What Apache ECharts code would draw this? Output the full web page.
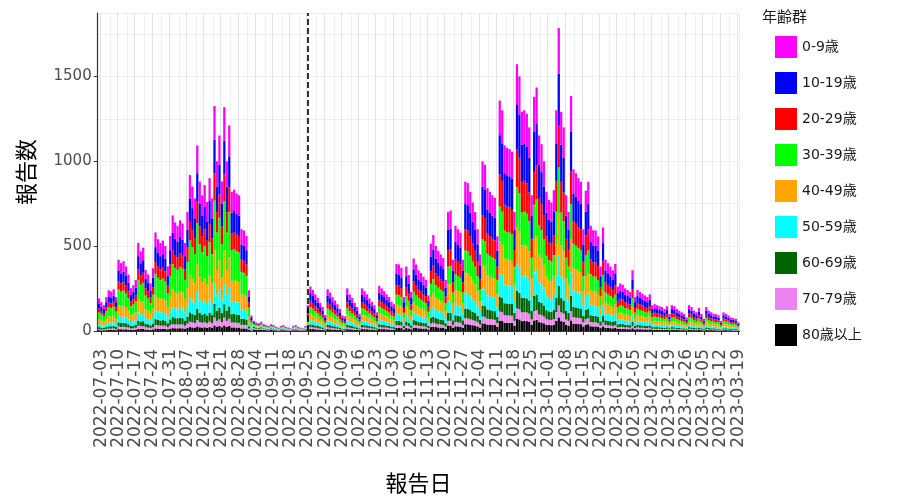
<!DOCTYPE html>
<html><head><meta charset="utf-8">
<script src="https://cdn.jsdelivr.net/npm/echarts@6/dist/echarts.min.js"></script>
<style>html,body{margin:0;padding:0;background:#fff}#c{width:902px;height:501px}</style>
</head><body><div id="c"></div>
<script>
const startDate = '2022-07-02';
const endDate = '2023-03-19';
const boundaryDate = '2022-09-25';
const tickLabels = ['2022-07-03','2022-07-10','2022-07-17','2022-07-24','2022-07-31','2022-08-07','2022-08-14','2022-08-21','2022-08-28','2022-09-04','2022-09-11','2022-09-18','2022-09-25','2022-10-02','2022-10-09','2022-10-16','2022-10-23','2022-10-30','2022-11-06','2022-11-13','2022-11-20','2022-11-27','2022-12-04','2022-12-11','2022-12-18','2022-12-25','2023-01-01','2023-01-08','2023-01-15','2023-01-22','2023-01-29','2023-02-05','2023-02-12','2023-02-19','2023-02-26','2023-03-05','2023-03-12','2023-03-19'];
const yTicks = [0, 500, 1000, 1500];
const groupNames = ['0-9歳','10-19歳','20-29歳','30-39歳','40-49歳','50-59歳','60-69歳','70-79歳','80歳以上'];
const groupColors = ['#ff00ff','#0000ff','#ff0000','#00ff00','#ffa500','#00ffff','#006400','#ee82ee','#000000'];

const age0_9 = [29,26,23,30,36,35,37,30,63,60,62,57,50,38,41,45,78,71,74,54,50,42,56,87,81,78,80,75,57,84,102,96,93,98,95,78,105,138,128,117,164,132,120,129,114,135,117,199,150,173,132,198,150,182,123,125,122,120,90,89,84,36,14,
6,5,4,5,4,3,3,4,3,2,2,3,3,2,2,1,3,3,2,2,1,3,
23,39,36,32,29,25,21,14,37,34,30,27,24,20,14,13,38,32,29,25,21,15,38,35,32,29,26,23,17,40,38,35,32,30,26,24,59,59,56,30,57,50,35,64,59,54,51,48,45,32,77,85,75,71,68,65,45,105,107,63,93,90,87,63,132,131,123,114,105,90,68,150,147,126,123,120,118,84,204,195,164,162,161,158,105,236,225,194,195,192,180,120,207,215,173,165,150,123,116,114,125,195,268,194,180,120,105,208,143,140,135,132,90,124,132,93,89,89,84,57,92,63,60,57,54,59,39,42,41,38,36,35,54,30,36,35,33,32,30,32,23,24,23,22,21,20,22,15,23,22,20,18,17,15,12,23,21,18,17,20,15,11,21,18,17,15,15,14,9,17,15,14,12,11,11,8];
const age10_19 = [29,26,23,30,36,35,37,30,63,60,62,57,50,38,41,45,78,71,74,54,50,42,56,87,81,78,80,75,57,84,102,96,93,98,95,78,105,138,128,117,164,132,120,129,114,135,117,199,150,173,132,198,150,182,123,125,122,120,90,89,84,36,14,
6,5,5,6,4,4,3,4,4,3,2,3,4,3,2,2,3,4,3,2,2,3,
26,45,41,37,33,28,24,16,42,38,34,31,27,22,15,14,43,37,33,28,24,17,43,40,37,32,29,26,19,45,43,40,37,34,29,27,67,66,63,34,65,56,39,72,66,61,58,54,51,36,88,96,85,80,77,73,51,119,121,71,105,102,99,71,150,148,139,129,119,102,77,170,167,143,139,136,133,95,231,221,186,184,182,180,119,267,255,219,221,218,204,136,235,244,196,187,170,139,131,129,141,221,303,219,204,136,119,235,162,158,153,150,102,140,150,105,101,100,95,65,104,71,68,65,61,67,45,48,46,43,41,39,61,34,41,39,37,36,34,37,26,27,26,25,24,22,25,17,26,25,22,20,19,17,14,26,24,20,19,23,17,12,24,20,19,17,17,15,10,19,17,15,14,13,12,9];
const age20_29 = [23,20,18,24,29,28,29,24,50,48,49,46,40,30,32,36,62,56,59,43,40,34,44,70,65,62,64,60,46,67,82,77,74,78,76,62,84,110,102,94,131,106,96,103,91,108,94,159,120,138,106,158,120,145,98,100,97,96,72,71,67,29,11,
6,5,4,5,4,3,3,4,3,2,2,3,3,2,2,1,3,3,2,2,1,3,
21,37,34,30,27,23,20,13,34,32,28,25,22,18,13,12,35,30,27,23,20,14,35,33,30,27,24,21,15,37,35,33,30,28,24,22,55,55,52,28,53,46,32,60,55,50,48,45,42,29,72,79,70,66,63,60,42,98,99,59,87,84,81,59,123,122,115,106,98,84,63,140,137,118,115,112,110,78,190,182,153,151,150,148,98,220,210,181,182,179,168,112,193,201,161,154,140,115,108,106,116,182,250,181,168,112,98,194,133,130,126,123,84,116,123,87,83,83,78,53,85,59,56,53,50,55,37,39,38,35,34,32,50,28,34,32,31,29,28,30,21,22,21,20,20,18,20,14,21,20,18,17,15,14,11,21,20,17,15,19,14,10,20,17,15,14,14,13,8,15,14,13,11,11,10,7];
const age30_39 = [42,37,33,44,53,51,54,44,92,88,90,84,73,55,59,66,114,103,108,79,73,62,81,128,119,114,117,110,84,123,150,141,136,143,139,114,154,202,187,172,241,194,176,189,167,198,172,292,220,253,194,290,220,266,180,183,178,176,132,130,123,53,20,
6,5,5,6,4,4,3,4,4,3,2,3,4,3,2,2,3,4,3,2,2,3,
23,39,36,32,29,25,21,14,37,34,30,27,24,20,14,13,38,32,29,25,21,15,38,35,32,29,26,23,17,40,38,35,32,30,26,24,59,59,56,30,57,50,35,64,59,54,51,48,45,32,77,85,75,71,68,65,45,105,107,63,93,90,87,63,132,131,123,114,105,90,68,150,147,126,123,120,118,84,204,195,164,162,161,158,105,236,225,194,195,192,180,120,207,215,173,165,150,123,116,114,125,195,268,194,180,120,105,208,143,140,135,132,90,124,132,93,89,89,84,57,92,63,60,57,54,59,39,42,41,38,36,35,54,30,36,35,33,32,30,32,23,24,23,22,21,20,22,15,23,22,20,18,17,15,12,23,21,18,17,20,15,11,21,18,17,15,15,14,9,17,15,14,12,11,11,8];
const age40_49 = [29,26,23,30,36,35,37,30,63,60,62,57,50,38,41,45,78,71,74,54,50,42,56,87,81,78,80,75,57,84,102,96,93,98,95,78,105,138,128,117,164,132,120,129,114,135,117,199,150,173,132,198,150,182,123,125,122,120,90,89,84,36,14,
6,5,4,5,4,3,3,4,3,2,2,3,3,2,2,1,3,3,2,2,1,3,
21,37,34,30,27,23,20,13,34,32,28,25,22,18,13,12,35,30,27,23,20,14,35,33,30,27,24,21,15,37,35,33,30,28,24,22,55,55,52,28,53,46,32,60,55,50,48,45,42,29,72,79,70,66,63,60,42,98,99,59,87,84,81,59,123,122,115,106,98,84,63,140,137,118,115,112,110,78,190,182,153,151,150,148,98,220,210,181,182,179,168,112,193,201,161,154,140,115,108,106,116,182,250,181,168,112,98,194,133,130,126,123,84,116,123,87,83,83,78,53,85,59,56,53,50,55,37,39,38,35,34,32,50,28,34,32,31,29,28,30,21,22,21,20,20,18,20,14,21,20,18,17,15,14,11,21,20,17,15,19,14,10,20,17,15,14,14,13,8,15,14,13,11,11,10,7];
const age50_59 = [17,15,14,18,22,21,22,18,38,36,37,34,30,23,24,27,47,42,44,32,30,25,33,52,49,47,48,45,34,50,61,58,56,59,57,47,63,83,77,70,99,79,72,77,68,81,70,119,90,104,79,119,90,109,74,75,73,72,54,53,50,22,8,
6,5,5,6,4,4,3,4,4,3,2,3,4,3,2,2,3,4,3,2,2,3,
15,26,24,22,20,17,14,10,25,23,20,18,16,13,9,9,25,22,20,17,14,10,25,24,22,19,17,15,11,27,25,24,22,20,17,16,40,39,37,20,38,33,23,43,39,36,34,32,30,21,52,57,50,47,45,43,30,70,71,42,62,60,58,42,88,87,82,76,70,60,45,100,98,84,82,80,79,56,136,130,110,108,107,106,70,157,150,129,130,128,120,80,138,144,115,110,100,82,77,76,83,130,179,129,120,80,70,139,95,93,90,88,60,83,88,62,59,59,56,38,61,42,40,38,36,40,26,28,27,25,24,23,36,20,24,23,22,21,20,22,15,16,15,15,14,13,15,10,15,15,13,12,11,10,8,15,14,12,11,14,10,7,14,12,11,10,10,9,6,11,10,9,8,8,7,5];
const age60_69 = [11,10,9,12,14,14,15,12,25,24,25,23,20,15,16,18,31,28,29,22,20,17,22,35,32,31,32,30,23,34,41,38,37,39,38,31,42,55,51,47,66,53,48,52,46,54,47,80,60,69,53,79,60,73,49,50,49,48,36,35,34,14,5,
7,6,5,7,5,4,4,5,4,3,2,4,4,3,2,2,4,4,3,2,2,4,
10,17,16,14,13,11,9,6,16,15,13,12,10,8,6,6,16,14,13,11,9,7,16,15,14,12,11,10,7,17,16,15,14,13,11,10,26,25,24,13,25,21,15,28,25,23,22,21,20,14,33,37,33,31,29,28,20,46,46,27,40,39,38,27,57,57,53,49,46,39,29,65,64,55,53,52,51,36,88,85,71,70,70,69,46,102,98,84,85,83,78,52,90,93,75,72,65,53,50,49,54,85,116,84,78,52,46,90,62,60,59,57,39,54,57,40,39,38,36,25,40,27,26,25,23,26,17,18,18,16,16,15,23,13,16,15,14,14,13,14,10,10,10,9,9,8,9,7,10,9,8,8,7,7,5,10,9,8,7,9,7,5,9,8,7,7,6,6,4,7,7,6,5,5,5,3];
const age70_79 = [7,6,5,7,8,8,9,7,15,14,14,13,12,9,9,11,18,16,17,13,12,10,13,20,19,18,19,18,13,20,24,22,22,23,22,18,25,32,30,27,38,31,28,30,27,32,27,46,35,40,31,46,35,42,29,29,28,28,21,21,20,8,3,
8,6,6,7,5,5,4,5,5,3,3,4,5,3,3,2,4,5,3,3,2,4,
6,10,10,9,8,7,6,4,10,9,8,7,6,5,4,3,10,9,8,7,6,4,10,9,9,8,7,6,4,11,10,9,9,8,7,6,16,16,15,8,15,13,9,17,16,14,14,13,12,8,21,23,20,19,18,17,12,28,28,17,25,24,23,17,35,35,33,30,28,24,18,40,39,34,33,32,31,22,54,52,44,43,43,42,28,63,60,52,52,51,48,32,55,57,46,44,40,33,31,30,33,52,71,52,48,32,28,55,38,37,36,35,24,33,35,25,24,24,22,15,24,17,16,15,14,16,10,11,11,10,10,9,14,8,10,9,9,8,8,9,6,6,6,6,6,5,6,4,6,6,5,5,4,4,3,6,6,5,4,5,4,3,6,5,4,4,4,4,2,4,4,4,3,3,3,2];
const age80plus = [5,4,4,5,6,6,6,5,11,10,10,10,8,6,7,8,13,12,12,9,8,7,9,15,14,13,13,13,10,14,17,16,16,16,16,13,18,23,21,20,27,22,20,22,19,23,20,33,25,29,22,33,25,30,21,21,20,20,15,15,14,6,2,
9,8,7,8,6,5,4,6,5,4,3,4,5,4,3,2,4,5,4,3,2,4,
7,12,11,10,9,7,6,4,11,10,9,8,7,6,4,4,11,10,9,7,6,5,11,11,10,9,8,7,5,12,11,11,10,9,8,7,18,18,17,9,17,15,10,19,18,16,15,14,14,9,23,25,23,21,20,19,14,32,32,19,28,27,26,19,40,39,37,34,32,27,20,45,44,38,37,36,35,25,61,59,49,49,48,48,32,71,68,58,59,58,54,36,62,65,52,50,45,37,35,34,37,59,80,58,54,36,32,62,43,42,41,40,27,37,40,28,27,27,25,17,27,19,18,17,16,18,12,13,12,11,11,10,16,9,11,10,10,9,9,10,7,7,7,7,6,6,7,5,7,7,6,5,5,5,4,7,6,5,5,6,5,3,6,5,5,5,4,4,3,5,5,4,4,3,3,2];

const groupData = [age0_9, age10_19, age20_29, age30_39, age40_49, age50_59, age60_69, age70_79, age80plus];

const dates = [];
for (let t = Date.parse(startDate + 'T00:00:00Z'); t <= Date.parse(endDate + 'T00:00:00Z'); t += 86400000) {
  dates.push(new Date(t).toISOString().slice(0, 10));
}
const tickSet = new Set(tickLabels);
const majorIdx = new Set(tickLabels.map(d => dates.indexOf(d)));
const minorIdx = new Set(tickLabels.map(d => dates.indexOf(d) + 4));

const FONT = '"DejaVu Sans", "Noto Sans CJK JP", sans-serif';
const series = [];
for (let g = groupNames.length - 1; g >= 0; g--) {
  const s = {
    name: groupNames[g], type: 'bar', stack: 'total', data: groupData[g],
    itemStyle: { color: groupColors[g] }, barCategoryGap: '8%',
    emphasis: { disabled: true }, xAxisIndex: 0, yAxisIndex: 0
  };
  if (g === groupNames.length - 1) {
    s.markLine = {
      silent: true, symbol: 'none', label: { show: false },
      lineStyle: { type: [6, 3], color: '#000', width: 1.6 },
      data: [{ xAxis: boundaryDate }]
    };
  }
  series.push(s);
}

const chart = echarts.init(document.getElementById('c'), null, { renderer: 'canvas' });
chart.setOption({
  animation: false,
  backgroundColor: '#ffffff',
  textStyle: { fontFamily: FONT },
  title: { text: '年齢群', left: 757, top: 6, textStyle: { fontSize: 15, fontWeight: 'normal', color: '#1a1a1a', fontFamily: FONT } },
  legend: {
    data: groupNames, orient: 'vertical', left: 775, top: 36, icon: 'rect',
    itemWidth: 22, itemHeight: 22, itemGap: 14, padding: 0,
    textStyle: { fontSize: 14, color: '#1a1a1a', fontFamily: FONT }, selectedMode: false
  },
  grid: { left: 97.7, right: 162.5, top: 13, bottom: 165, containLabel: false },
  xAxis: [{
    type: 'category', data: dates, boundaryGap: true, offset: 14,
    name: '報告日', nameLocation: 'middle', nameGap: 129,
    nameTextStyle: { fontSize: 22, color: '#000', fontFamily: FONT },
    axisLine: { show: true, lineStyle: { color: '#333', width: 1.2 } },
    axisTick: { show: true, alignWithLabel: true, length: 4, lineStyle: { color: '#333' }, interval: (i, v) => tickSet.has(v) },
    axisLabel: { show: true, rotate: 90, fontSize: 17, color: '#4d4d4d', margin: 4, fontFamily: FONT, interval: (i, v) => tickSet.has(v) },
    splitLine: { show: true, lineStyle: { color: '#e3e3e3', width: 1 }, interval: (i) => majorIdx.has(i) }
  }, {
    type: 'category', data: dates, boundaryGap: true, position: 'bottom',
    axisLine: { show: false }, axisTick: { show: false }, axisLabel: { show: false },
    splitLine: { show: true, lineStyle: { color: '#f0f0f0', width: 1 }, interval: (i) => minorIdx.has(i) }
  }],
  yAxis: [{
    type: 'value', min: 0, max: 1874, interval: 500,
    name: '報告数', nameLocation: 'middle', nameGap: 58, nameRotate: 90,
    nameTextStyle: { fontSize: 22, color: '#000', fontFamily: FONT },
    axisLine: { show: true, lineStyle: { color: '#333', width: 1.2 } },
    axisTick: { show: true, length: 4, lineStyle: { color: '#333' } },
    axisLabel: { fontSize: 15, color: '#4d4d4d', margin: 6, showMaxLabel: false, fontFamily: FONT,
      formatter: v => yTicks.includes(v) ? String(v) : '' },
    splitLine: { show: true, lineStyle: { color: '#e3e3e3', width: 1 } }
  }, {
    type: 'value', min: 0, max: 1874, interval: 250, show: true,
    axisLine: { show: false }, axisTick: { show: false }, axisLabel: { show: false },
    splitLine: { show: true, lineStyle: { color: '#f0f0f0', width: 1 } }
  }],
  series: series
});
</script>
</body></html>
